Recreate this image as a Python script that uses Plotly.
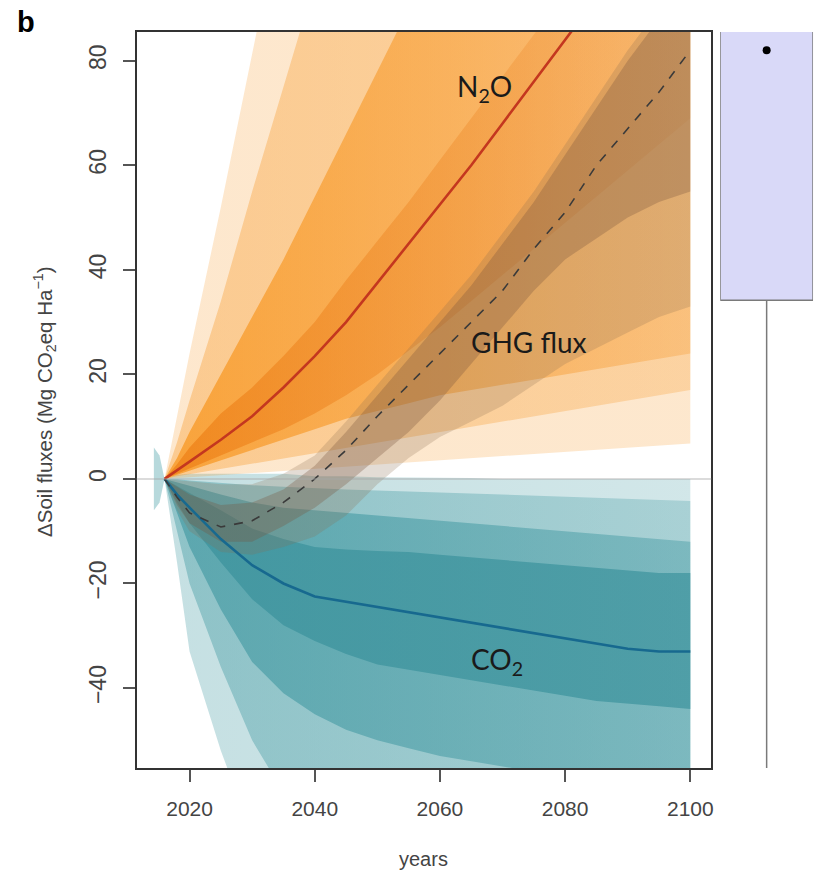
import plotly.graph_objects as go

# ---------------- data ----------------
years = [2016, 2018, 2020, 2025, 2030, 2035, 2040, 2045, 2050, 2055,
         2060, 2065, 2070, 2075, 2080, 2085, 2090, 2095, 2100]

# medians
n2o_median = [0, 1.6, 3.3, 7.5, 12, 17.5, 23.5, 30, 37.5, 45,
              52.5, 60, 68, 76, 84, 92, 100, 108, 116]
co2_median = [0, -3, -5.5, -11.5, -16.5, -20, -22.5, -23.5, -24.5, -25.5,
              -26.5, -27.5, -28.5, -29.5, -30.5, -31.5, -32.5, -33, -33]
ghg_median = [0, -3.5, -6.5, -9.2, -8, -4.5, 0, 5.5, 12, 18,
              24, 30, 36, 44, 51, 60, 67, 74, 82]

# N2O ensemble envelopes (widest -> core)
n2o_env1_up = [0, 12, 24, 52, 82, 112, 140, 165, 190, 215, 240, 260, 280, 300, 320, 340, 360, 380, 400]
n2o_env1_lo = [0, 0.2, 0.4, 0.8, 1.2, 1.6, 2, 2.4, 2.8, 3.2, 3.6, 4, 4.4, 4.8, 5.2, 5.6, 6, 6.4, 6.8]
n2o_env2_up = [0, 7, 15, 34, 55, 75, 95, 115, 135, 155, 175, 195, 215, 235, 255, 275, 295, 315, 335]
n2o_env2_lo = [0, 0.5, 1, 2, 3, 4, 5, 6, 7, 8, 9, 10, 11, 12, 13, 14, 15, 16, 17]
n2o_env3_up = [0, 4, 9, 20, 31, 42, 54, 66, 78, 90, 102, 114, 126, 138, 150, 162, 174, 186, 198]
n2o_env3_lo = [0, 0.8, 1.6, 3.5, 5.5, 7.5, 9.5, 11.5, 13, 14.5, 16, 17, 18, 19, 20, 21, 22, 23, 24]
n2o_core_up = [0, 2.8, 6, 12.5, 17.5, 23.5, 30, 38, 45.5, 53, 61, 69, 77, 85, 93, 101, 109, 117, 125]
n2o_core_lo = [0, 1, 2, 4.5, 7, 9.5, 12.5, 16, 20, 24.5, 29, 34, 39, 44, 49, 54, 59, 64, 69]

# CO2 ensemble envelopes (widest -> core)
co2_env1_up = [0, 0.8, 1, 1, 1, 1, 0.5, 0.5, 0.3, 0.3, 0.2, 0.2, 0, 0, 0, 0, 0, 0, 0]
co2_env1_lo = [0, -16, -33, -52, -68, -80, -90, -95, -100, -102, -104, -106, -108, -110, -112, -114, -116, -118, -120]
co2_env2_up = [0, 0, -0.3, -0.8, -1.2, -1.5, -1.8, -2, -2.2, -2.4, -2.6, -2.8, -3, -3.2, -3.4, -3.6, -3.8, -4, -4.2]
co2_env2_lo = [0, -10, -20, -36, -50, -60, -66, -70, -73, -75, -77, -79, -81, -83, -85, -87, -89, -91, -93]
co2_env3_up = [0, -0.6, -1.3, -3, -4.5, -5.5, -6, -6.5, -7, -7.5, -8, -8.5, -9, -9.5, -10, -10.5, -11, -11.5, -12]
co2_env3_lo = [0, -6.5, -13, -25, -35, -41, -45, -48, -50, -51.5, -53, -54, -55, -56, -57, -58, -59, -60, -61]
co2_core_up = [0, -1.3, -2.7, -6, -9.5, -11.5, -13, -13.5, -13.8, -14, -14.5, -15, -15.5, -16, -16.5, -17, -17.5, -18, -18]
co2_core_lo = [0, -4.5, -8.5, -16, -23, -28, -31, -33.5, -35.5, -36.5, -37.5, -38.5, -39.5, -40.5, -41.5, -42.5, -43, -43.5, -44]

# GHG flux bands
ghg_outer_up = [0, -0.2, -0.5, -1, -1, 1, 4.5, 11, 18, 25, 32, 39, 47, 55, 64, 73, 82, 90, 99]
ghg_outer_lo = [0, -6, -10, -14, -14.5, -13, -11, -7, -1, 4, 8, 11, 14, 18, 22, 25, 28, 31, 33]
ghg_inner_up = [0, -1.5, -3, -5, -4.5, -2, 2.5, 9, 16, 23, 30, 37, 45, 53, 62, 71, 80, 88, 96]
ghg_inner_lo = [0, -5, -8.5, -12, -12, -9, -5.5, -1, 4, 9, 15, 22, 29, 36, 42, 46, 50, 53, 55]

# spin-up spread before the start year
spin_years = [2014.3, 2015.2, 2016]
spin_up = [6, 4.5, 0]
spin_lo = [-6, -4.5, 0]

# right panel: distribution of GHG flux in 2100
box_q1, box_q3, box_low = 34.2, 140, -80
box_point = 82

x_ticks = [2020, 2040, 2060, 2080, 2100]
y_ticks = [-40, -20, 0, 20, 40, 60, 80]

# ---------------- figure ----------------
W, H = 827, 876
fig = go.Figure()


def band(x, upper, lower, color=None, gradient=None):
    xs = list(x) + list(x)[::-1]
    ys = list(upper) + list(lower)[::-1]
    kw = dict(x=xs, y=ys, fill='toself', mode='lines', line=dict(width=0),
              hoverinfo='skip', showlegend=False)
    if gradient is not None:
        kw['fillgradient'] = dict(type='horizontal', colorscale=gradient)
        kw['fillcolor'] = gradient[-1][1]
    else:
        kw['fillcolor'] = color
    fig.add_trace(go.Scatter(**kw))


# CO2 ensemble
band(spin_years, spin_up, spin_lo, color='rgba(74,160,168,0.40)')
band(years, co2_env1_up, co2_env1_lo,
     gradient=[[0, 'rgba(74,158,166,0.32)'], [1, 'rgba(74,158,166,0.25)']])
band(years, co2_env2_up, co2_env2_lo,
     gradient=[[0, 'rgba(74,158,166,0.45)'], [1, 'rgba(74,158,166,0.30)']])
band(years, co2_env3_up, co2_env3_lo,
     gradient=[[0, 'rgba(70,155,164,0.70)'], [1, 'rgba(70,155,164,0.45)']])
band(years, co2_core_up, co2_core_lo,
     gradient=[[0, 'rgba(62,148,158,0.80)'], [1, 'rgba(62,148,158,0.72)']])

# N2O ensemble
band(years, n2o_env1_up, n2o_env1_lo,
     gradient=[[0, 'rgba(247,148,30,0.22)'], [1, 'rgba(247,148,30,0.22)']])
band(years, n2o_env2_up, n2o_env2_lo,
     gradient=[[0, 'rgba(247,148,30,0.35)'], [1, 'rgba(247,148,30,0.25)']])
band(years, n2o_env3_up, n2o_env3_lo,
     gradient=[[0, 'rgba(248,150,30,0.75)'], [1, 'rgba(246,150,40,0.30)']])
band(years, n2o_core_up, n2o_core_lo,
     gradient=[[0, 'rgba(236,122,16,0.65)'], [1, 'rgba(236,140,50,0.15)']])

# GHG bands (semi-transparent warm brown-grey)
band(years, ghg_outer_up, ghg_outer_lo, color='rgba(140,108,80,0.24)')
band(years, ghg_inner_up, ghg_inner_lo, color='rgba(120,84,58,0.30)')

# medians
fig.add_trace(go.Scatter(x=years, y=co2_median, mode='lines',
                         line=dict(color='#17698f', width=2.6), hoverinfo='skip', showlegend=False))
fig.add_trace(go.Scatter(x=years, y=n2o_median, mode='lines',
                         line=dict(color='#c4371f', width=2.6), hoverinfo='skip', showlegend=False))
fig.add_trace(go.Scatter(x=years, y=ghg_median, mode='lines',
                         line=dict(color='#3a3a3a', width=1.6, dash='dash'),
                         hoverinfo='skip', showlegend=False))

# right panel box
fig.add_trace(go.Box(x=[0], q1=[box_q1], median=[box_q3], q3=[box_q3],
                     lowerfence=[box_low], upperfence=[box_q3],
                     width=1, fillcolor='#d9d9f8', line=dict(color='#7a7a7a', width=1.5),
                     xaxis='x2', yaxis='y', hoverinfo='skip', showlegend=False))
fig.add_trace(go.Scatter(x=[0], y=[box_point], mode='markers',
                         marker=dict(color='black', size=8), xaxis='x2', yaxis='y',
                         hoverinfo='skip', showlegend=False))

xfont = dict(family='Liberation Sans, Arial, sans-serif', size=21, color='#444444')
yfont = dict(family='Liberation Sans, Arial, sans-serif', size=23, color='#444444')

fig.update_layout(
    width=W, height=H,
    margin=dict(l=0, r=0, t=0, b=0),
    paper_bgcolor='white', plot_bgcolor='rgba(0,0,0,0)',
    xaxis=dict(domain=[137 / W, 713 / W], range=[2011.55, 2103.35],
               tickvals=x_ticks, ticks='outside', ticklen=12, tickwidth=1.5, tickcolor='#555',
               ticklabelstandoff=9,
               showline=True, linecolor='#333', linewidth=1.5, mirror=True,
               showgrid=False, zeroline=False, tickfont=xfont, anchor='y'),
    yaxis=dict(domain=[1 - 768 / H, 1 - 32 / H], range=[-55.3, 85.5],
               tickvals=y_ticks, tickangle=-90, ticks='outside', ticklen=12, tickwidth=1.5,
               ticklabelstandoff=8,
               tickcolor='#555', showline=True, linecolor='#333', linewidth=1.5, mirror=True,
               showgrid=False, zeroline=False, tickfont=yfont, anchor='x'),
    xaxis2=dict(domain=[722 / W, 815 / W], range=[-0.5, 0.5], visible=False, anchor='y'),
    shapes=[dict(type='line', xref='x domain', yref='y', x0=0, x1=1, y0=0, y1=0,
                 line=dict(color='rgba(170,170,170,0.55)', width=1.5), layer='above')],
    annotations=[
        dict(text='<b>b</b>', xref='paper', yref='paper', x=26 / W, y=1 - 22 / H,
             xanchor='center', yanchor='middle', showarrow=False,
             font=dict(family='Liberation Sans, Arial', size=29, color='black')),
        dict(text='ΔSoil fluxes (Mg CO<sub>2</sub>eq Ha<sup>−1</sup>)', xref='paper', yref='paper',
             x=44 / W, y=1 - 402 / H, xanchor='center', yanchor='middle',
             textangle=-90, showarrow=False,
             font=dict(family='Liberation Sans, Arial', size=20.5, color='#444444')),
        dict(text='years', xref='paper', yref='paper', x=425 / W, y=1 - 859 / H,
             xanchor='center', yanchor='middle', showarrow=False,
             font=dict(family='Liberation Sans, Arial', size=20, color='#444444')),
        dict(text='N<sub>2</sub>O', xref='x', yref='y', x=2067.2, y=74.8, showarrow=False,
             font=dict(family='Lato, sans-serif', size=28, color='#1a1a1a')),
        dict(text='GHG flux', xref='x', yref='y', x=2074.3, y=26.2, showarrow=False,
             font=dict(family='Lato, sans-serif', size=28, color='#1a1a1a')),
        dict(text='CO<sub>2</sub>', xref='x', yref='y', x=2069.1, y=-34.8, showarrow=False,
             font=dict(family='Lato, sans-serif', size=28, color='#1a1a1a')),
    ],
)

fig.write_html('out.html')
